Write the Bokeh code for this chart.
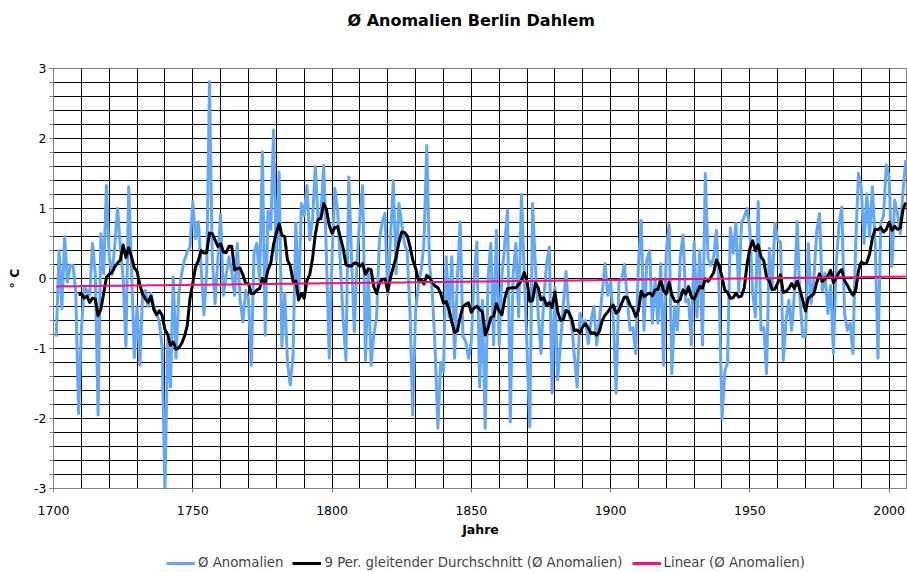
import numpy as np
from bokeh.plotting import figure
from bokeh.layouts import column
from bokeh.models import (Legend, LegendItem, FixedTicker, SingleIntervalTicker, Range1d, Title)
from bokeh.embed import file_html
from bokeh.resources import INLINE

# ---------------- data ----------------
first_year = 1701
anomalies = [
    -0.83, 0.40, -0.43, 0.60, -0.05, 0.19, 0.19, -0.21, -1.93, -0.74,   # 1701-1710
    -0.12, -0.17, -0.24, 0.50, 0.07, -1.95, 0.64, 0.07, 1.33, 0.30,     # 1711-1720
    0.05, 0.48, 1.00, 0.45, 0.00, -0.97, 1.31, 0.17, -1.13, -0.40,      # 1721-1730
    -1.24, -0.21, -0.17, -0.40, -0.21, -0.40, -0.50, -0.62, -0.98, -3.05,  # 1731-1740
    -0.88, -1.55, 0.02, -1.14, -0.21, 0.07, 0.26, 0.38, 0.45, 1.10,     # 1741-1750
    0.57, 0.81, 0.15, -0.52, 0.10, 2.81, 0.30, -0.36, 0.26, 0.91,       # 1751-1760
    -0.24, 0.05, 0.31, 0.10, -0.24, 0.50, -0.30, -0.62, -0.17, -0.30,   # 1761-1770
    -1.24, 0.37, 0.50, -0.03, 1.81, -0.81, 0.96, 0.70, 2.12, 0.26,      # 1771-1780
    1.52, -0.97, -0.21, -1.20, -1.52, -1.10, 0.79, -0.31, 1.07, 0.90,   # 1781-1790
    1.33, 0.55, 0.85, 1.60, 0.83, 0.90, 1.62, 0.30, -1.14, 0.30,        # 1791-1800
    1.29, 0.98, 0.20, -0.60, -1.17, 1.45, 0.30, -0.76, 0.26, 0.90,      # 1801-1810
    1.33, -1.17, 0.10, -1.24, -0.80, -0.55, 0.55, 0.80, 0.93, -0.24,    # 1811-1820
    0.60, 1.40, 0.07, 1.07, 0.79, 0.50, 0.38, -0.50, -1.95, -0.45,      # 1821-1830
    -0.10, 0.12, 0.50, 1.90, 0.21, -0.21, -1.00, -2.14, -1.20, -1.33,   # 1831-1840
    0.31, -0.55, 0.31, -1.14, 0.00, 0.81, -0.83, -0.90, -1.14, -0.90,   # 1841-1850
    0.00, 0.52, -1.55, -0.31, -2.14, 0.00, 0.50, -0.95, 0.69, -0.95,    # 1851-1860
    0.05, 0.50, 0.98, -2.05, 0.05, 0.50, -0.55, 1.20, 0.07, -1.00,      # 1861-1870
    -2.12, 1.07, 0.17, -0.50, -1.07, -0.30, 0.20, 0.45, -1.64, -0.12,   # 1871-1880
    -1.45, -0.95, -0.40, 0.10, -0.50, -0.64, -1.10, -1.55, -0.50, -0.64,  # 1881-1890
    -0.60, -0.93, -0.60, -0.40, -0.95, -0.60, -0.20, 0.21, -0.24, -0.05,  # 1891-1900
    -0.60, -1.64, -0.05, 0.00, 0.20, -0.30, -0.74, -0.70, -1.07, 0.20,    # 1901-1910
    0.83, -0.74, 0.26, 0.40, -0.64, 0.00, -0.64, 0.21, -1.24, 0.40,     # 1911-1920
    0.76, -1.36, -0.40, -0.74, 0.30, 0.62, -0.33, -0.30, -0.95, 0.52,   # 1921-1930
    -0.55, 0.40, -0.95, 1.50, 0.29, 0.19, 0.30, 0.69, -0.21, -2.00,     # 1931-1940
    -1.33, -1.20, 0.72, 0.36, 0.79, -0.20, 0.80, 0.88, 1.00, 0.70,      # 1941-1950
    -0.20, -0.55, 1.10, -0.74, -0.70, -1.36, 0.43, -0.12, 0.79, 0.55,   # 1951-1960
    0.52, -1.17, -0.60, -0.31, -0.74, -0.20, 0.81, -0.30, -0.83, -0.83,  # 1961-1970
    0.50, -0.36, 0.00, 0.67, 0.93, -0.17, 0.07, -0.50, -0.10, -1.07,    # 1971-1980
    0.20, 0.76, 1.02, -0.50, -0.74, -0.64, -1.07, 0.50, 1.50, 1.30,     # 1981-1990
    0.50, 1.21, 0.60, 1.31, 0.50, -1.14, 0.79, 0.90, 1.62, 1.45,        # 1991-2000
    0.17, 1.12, 0.93, 0.64, 1.26, 1.69,                                 # 2001-2006
]
years = list(range(first_year, first_year + len(anomalies)))

x_tick_values = [1700, 1750, 1800, 1850, 1900, 1950, 2000]
x_tick_labels = ["1700", "1750", "1800", "1850", "1900", "1950", "2000"]
y_tick_values = [-3, -2, -1, 0, 1, 2, 3]
y_tick_labels = ["-3", "-2", "-1", "0", "1", "2", "3"]

title_text = "Ø Anomalien Berlin Dahlem"
x_label = "Jahre"
y_label = "° C"
series_labels = ["Ø Anomalien",
                 "9 Per. gleitender Durchschnitt (Ø Anomalien)",
                 "Linear (Ø Anomalien)"]

# trendlines derived from the data (as the spreadsheet does)
period = 9
vals = np.array(anomalies)
ma_values = np.convolve(vals, np.ones(period) / period, mode="valid")
ma_years = years[period - 1:]
slope, intercept = np.polyfit(years, vals, 1)
trend_values = [slope * y + intercept for y in years]

FONT = "DejaVu Sans"
BLUE = "#62a8f7"
PINK = "#ff0a80"

p = figure(width=907, height=544, title=None,
           x_range=Range1d(1700, 2006.6), y_range=Range1d(-3, 3),
           output_backend="svg", toolbar_location=None,
           min_border_left=53, min_border_right=0,
           min_border_top=68, min_border_bottom=56)
p.background_fill_color = "white"
p.border_fill_color = "white"
p.outline_line_color = "#7f7f7f"

# spacer row between frame and title, then the title itself (stacked outward)
p.add_layout(Title(text=" ", text_font=FONT, text_font_size="12px", standoff=23), "above")
p.add_layout(Title(text=title_text, align="left", offset=294, standoff=0,
                   text_font=FONT, text_font_size="16px", text_font_style="bold",
                   text_color="black"), "above")

# grids
p.xgrid.ticker = SingleIntervalTicker(interval=10)
p.ygrid.ticker = SingleIntervalTicker(interval=0.2)
for g in (p.xgrid, p.ygrid):
    g.grid_line_color = "black"
    g.grid_line_width = 1

# x axis
p.xaxis.ticker = FixedTicker(ticks=x_tick_values)
p.xaxis.major_label_overrides = dict(zip(x_tick_values, x_tick_labels))
p.xaxis.axis_label = x_label
# y axis
p.yaxis.ticker = SingleIntervalTicker(interval=1, num_minor_ticks=5)
p.yaxis.major_label_overrides = dict(zip(y_tick_values, y_tick_labels))
p.yaxis.axis_label = y_label

for ax in (p.xaxis[0], p.yaxis[0]):
    ax.axis_line_color = "#808080"
    ax.major_tick_line_color = "#808080"
    ax.minor_tick_line_color = "#808080"
    ax.major_tick_in = 0
    ax.major_tick_out = 4
    ax.major_label_text_font = FONT
    ax.major_label_text_font_size = "12.5px"
    ax.major_label_text_color = "black"
    ax.axis_label_text_font = FONT
    ax.axis_label_text_font_size = "12.5px"
    ax.axis_label_text_font_style = "bold"
    ax.axis_label_text_color = "black"

p.xaxis.minor_tick_out = 0
p.xaxis.minor_tick_in = 0
p.xaxis.major_label_standoff = 13
p.xaxis.axis_label_standoff = 4
p.yaxis.minor_tick_in = 0
p.yaxis.minor_tick_out = 4
p.yaxis.major_label_standoff = 3
p.yaxis.axis_label_standoff = 9

p.line(years, anomalies, line_color=BLUE, line_width=3, line_join="round")
p.line(ma_years, ma_values, line_color="black", line_width=3, line_join="round")
p.line(years, trend_values, line_color=PINK, line_width=2)

# legend strip below the chart (its series lie outside this strip's visible range)
lf = figure(width=907, height=28, output_backend="svg", toolbar_location=None,
            x_axis_type=None, y_axis_type=None,
            x_range=Range1d(0, 1), y_range=Range1d(0, 1),
            min_border_left=0, min_border_right=0, min_border_top=0, min_border_bottom=0)
lf.grid.visible = False
lf.outline_line_color = None
lf.background_fill_color = "white"
lf.border_fill_color = "white"
r_blue = lf.line(years, anomalies, line_color=BLUE, line_width=3)
r_black = lf.line(ma_years, ma_values, line_color="black", line_width=3)
r_pink = lf.line(years, trend_values, line_color=PINK, line_width=3)

legend = Legend(items=[LegendItem(label=series_labels[0], renderers=[r_blue]),
                       LegendItem(label=series_labels[1], renderers=[r_black]),
                       LegendItem(label=series_labels[2], renderers=[r_pink])],
                orientation="horizontal", location=(113, 2),
                border_line_color=None, background_fill_alpha=0,
                label_text_font=FONT, label_text_font_size="13.3px",
                glyph_width=29, glyph_height=12, label_standoff=3, spacing=9,
                padding=0, margin=0)
lf.add_layout(legend)

layout = column(p, lf, spacing=0)
open("out.html", "w").write(file_html(layout, INLINE))
